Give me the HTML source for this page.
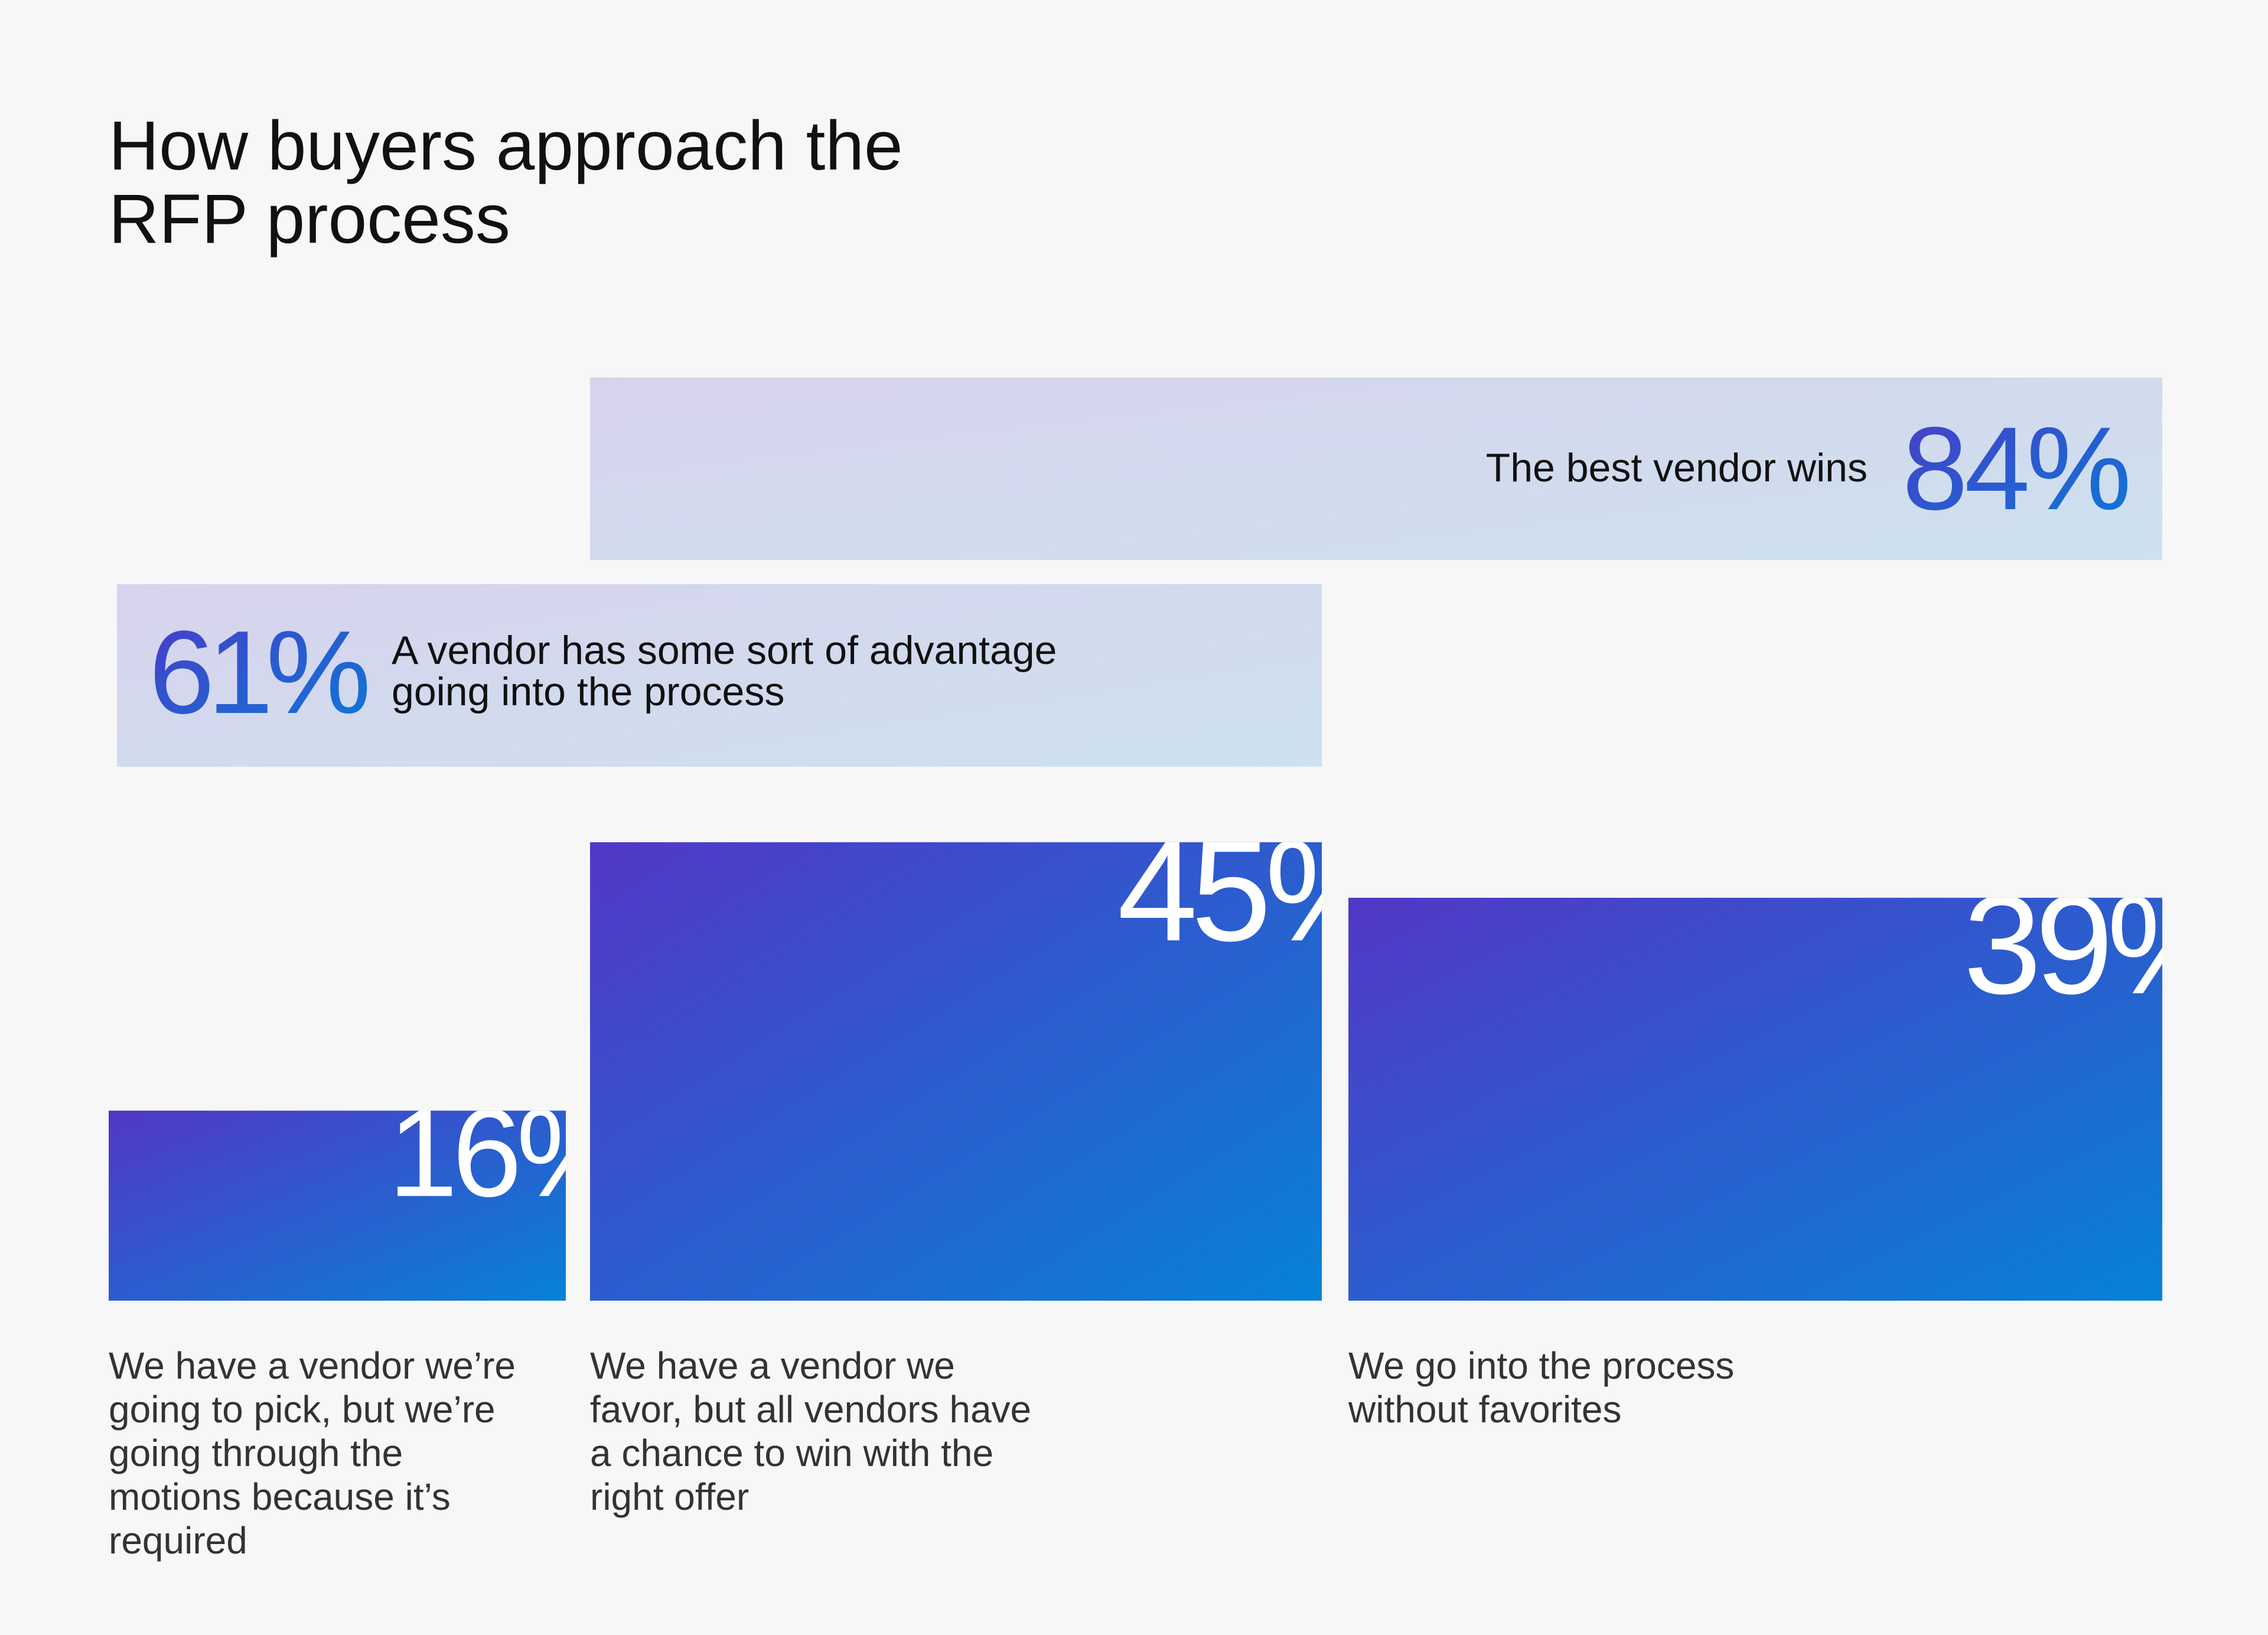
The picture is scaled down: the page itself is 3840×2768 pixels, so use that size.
<!DOCTYPE html>
<html><head><meta charset="utf-8">
<style>
html,body{margin:0;padding:0;background:#f7f7f7;}
svg{display:block;font-family:"Liberation Sans",sans-serif;}
</style></head>
<body>
<svg id="chart" width="3840" height="2768" viewBox="0 0 3840 2768" xmlns="http://www.w3.org/2000/svg">
<defs>
<linearGradient id="barGrad" x1="0" y1="0" x2="1" y2="1">
<stop offset="0" stop-color="#5237c6"/><stop offset="1" stop-color="#0682d6"/>
</linearGradient>
<linearGradient id="bandGrad" x1="0" y1="0" x2="1" y2="1">
<stop offset="0" stop-color="#d7d3ed"/><stop offset="1" stop-color="#cde1ee"/>
</linearGradient>
<linearGradient id="pctGrad" x1="0" y1="0" x2="1" y2="1">
<stop offset="0" stop-color="#4b3bc8"/><stop offset="1" stop-color="#0a7ad8"/>
</linearGradient>
</defs>
<rect width="3840" height="2768" fill="#f7f7f7"/>
<text x="184" y="287" font-size="118" fill="#111">How buyers approach the</text>
<text x="184" y="411" font-size="118" fill="#111">RFP process</text>
<g id="bands"></g>
<g id="bars"></g>
<g id="cats"></g>
</svg>
<script>
const categories = [
  ["We have a vendor we\u2019re","going to pick, but we\u2019re","going through the","motions because it\u2019s","required"],
  ["We have a vendor we","favor, but all vendors have","a chance to win with the","right offer"],
  ["We go into the process","without favorites"]
];
const values = [16, 45, 39];
const bandValues = [84, 61];
const bandLabels = [["The best vendor wins"], ["A vendor has some sort of advantage","going into the process"]];

const NS = "http://www.w3.org/2000/svg";
const svg = document.getElementById('chart');
const colX = [[184, 958], [999, 2238], [2283, 3661]];
const baseY = 2202;
function yScale(v){ return 71 + 15.67 * v; }
function mk(tag, attrs, parent){ const e = document.createElementNS(NS, tag); for (const k in attrs) e.setAttribute(k, attrs[k]); parent.appendChild(e); return e; }

const barsG = document.getElementById('bars');
const defs = svg.querySelector('defs');
values.forEach((v, i) => {
  const h = yScale(v), x0 = colX[i][0], x1 = colX[i][1], top = baseY - h;
  const r = mk('rect', {x: x0, y: top, width: x1 - x0, height: h, fill: 'url(#barGrad)'}, barsG);
  
  
  const cp = mk('clipPath', {id: 'clip' + i}, defs);
  mk('rect', {x: x0, y: top, width: x1 - x0, height: h}, cp);
  const f = 190 + h * 0.07;
  const t = mk('text', {x: x1 + 0.45 * f, y: top + 0.68 * f, 'font-size': f, fill: '#fff', 'text-anchor': 'end', 'letter-spacing': -f * 0.045, 'clip-path': 'url(#clip' + i + ')'}, barsG);
  t.textContent = v + '%';
  
  
});

const catG = document.getElementById('cats');
categories.forEach((lines, i) => {
  lines.forEach((ln, j) => {
    const t = mk('text', {x: colX[i][0], y: 2334 + j * 74, 'font-size': 64, fill: '#333'}, catG);
    t.textContent = ln;
    
    
  });
});

const bandG = document.getElementById('bands');
const b0 = mk('rect', {x: 999, y: 639, width: 2662, height: 309, fill: 'url(#bandGrad)'}, bandG);


const p0 = mk('text', {x: 3603, y: 862, 'font-size': 200, fill: 'url(#pctGrad)', 'text-anchor': 'end', 'letter-spacing': -6}, bandG);
p0.textContent = bandValues[0] + '%';


const l0 = mk('text', {x: 3162, y: 815, 'font-size': 68, fill: '#111', 'text-anchor': 'end'}, bandG);
l0.textContent = bandLabels[0][0];



const b1 = mk('rect', {x: 198, y: 989, width: 2040, height: 309, fill: 'url(#bandGrad)'}, bandG);


const p1 = mk('text', {x: 252, y: 1207, 'font-size': 200, fill: 'url(#pctGrad)', 'letter-spacing': -12}, bandG);
p1.textContent = bandValues[1] + '%';


bandLabels[1].forEach((ln, j) => {
  const t = mk('text', {x: 663, y: 1124 + j * 70, 'font-size': 68, fill: '#111'}, bandG);
  t.textContent = ln;
  
  
});
</script>
</body></html>
